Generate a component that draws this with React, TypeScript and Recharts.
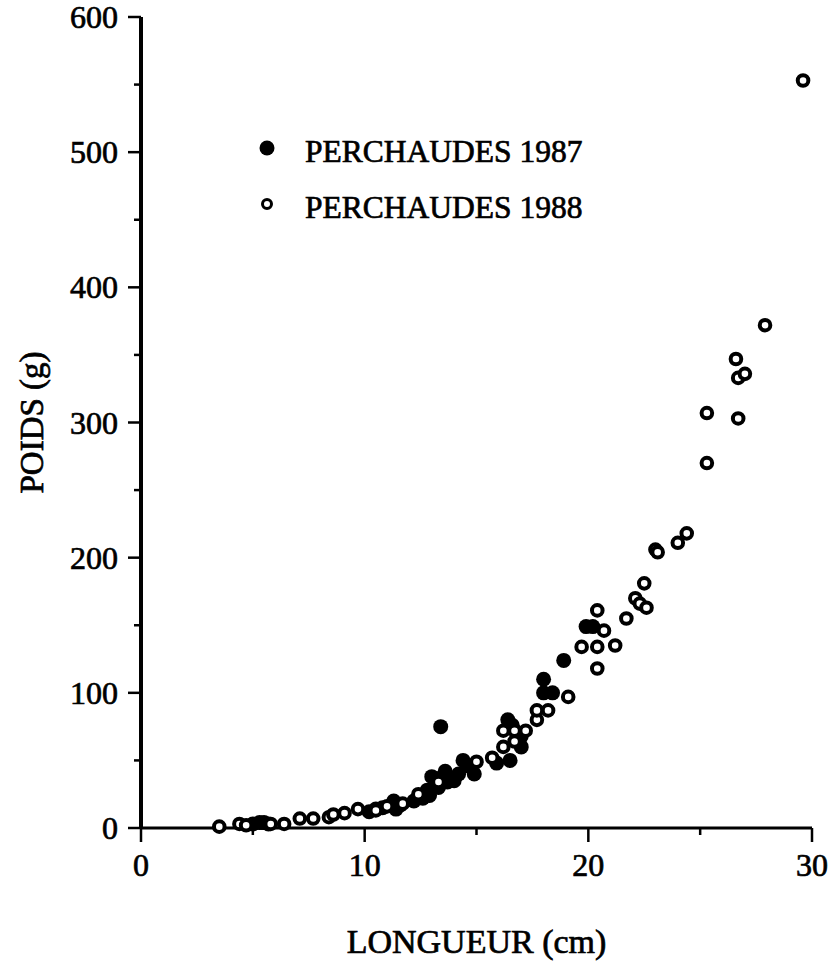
import React from 'react';
import { ScatterChart, Scatter, XAxis, YAxis, Legend } from 'recharts';

const FONT = '"Liberation Serif", "Times New Roman", serif';

const xTicks = [0, 5, 10, 15, 20, 25, 30];
const yTicks = [0, 50, 100, 150, 200, 250, 300, 350, 400, 450, 500, 550, 600];

const series1987Label = 'PERCHAUDES 1987';
const series1988Label = 'PERCHAUDES 1988';

// PERCHAUDES 1987 (filled)
const len1987 = [5.0, 5.3, 5.5, 5.7, 10.2, 10.5, 10.8, 11.3, 11.4, 11.6, 12.2, 12.6, 12.8, 13.0, 13.2, 13.3, 13.5, 13.4, 13.7, 14.0, 14.2, 14.4, 14.6, 14.9, 15.9, 16.5, 16.4, 16.6, 17.0, 17.0, 18.0, 18.0, 18.4, 18.9, 19.9, 20.2, 12.9, 13.6];
const wt1987 = [3, 4, 4, 3, 12, 14, 15, 20, 14, 17, 20, 22, 28, 38, 32, 30, 38, 75, 34, 35, 40, 50, 46, 40, 48, 50, 80, 76, 60, 68, 110, 100, 100, 124, 149, 149, 24, 42];

// PERCHAUDES 1988 (open)
const len1988 = [3.5, 4.4, 4.7, 5.8, 6.4, 7.1, 7.7, 8.4, 8.6, 9.1, 9.7, 10.5, 11.0, 11.7, 12.4, 13.3, 15.0, 15.7, 16.2, 16.7, 17.2, 16.7, 16.2, 17.7, 17.7, 18.2, 19.1, 19.7, 20.4, 21.2, 20.4, 20.4, 20.7, 21.7, 22.1, 22.3, 22.6, 22.5, 23.0, 23.1, 24.0, 24.4, 25.3, 25.3, 26.7, 26.6, 26.7, 27.0, 27.9, 29.6];
const wt1988 = [1, 3, 2, 3, 3, 7, 7, 8, 10, 11, 14, 13, 16, 18, 25, 34, 49, 52, 72, 72, 72, 64, 60, 80, 87, 87, 97, 134, 134, 135, 118, 161, 146, 155, 170, 166, 163, 181, 206, 204, 211, 218, 270, 307, 303, 347, 333, 336, 372, 553];

const data1987 = len1987.map((x, i) => ({ x, y: wt1987[i] }));
const data1988 = len1988.map((x, i) => ({ x, y: wt1988[i] }));

const TXT = { fontFamily: FONT, fill: '#000', stroke: '#000', strokeWidth: 0.7 };

const FilledDot = (props: any) => (
  <circle cx={props.cx} cy={props.cy} r={7.5} fill="#000" />
);
const OpenDot = (props: any) => (
  <circle cx={props.cx} cy={props.cy} r={5.3} fill="#fff" stroke="#000" strokeWidth={4} />
);

const YTick = (props: any) => {
  const { x, y, payload } = props;
  const major = payload.value % 100 === 0;
  return (
    <g>
      <line x1={x} x2={x - (major ? 13 : 7)} y1={y} y2={y} stroke="#000" strokeWidth={2.5} />
      {major && (
        <text x={x - 23} y={y + 11} textAnchor="end" fontSize={32} style={TXT}>
          {payload.value}
        </text>
      )}
    </g>
  );
};

const XTick = (props: any) => {
  const { x, y, payload } = props;
  const major = payload.value % 10 === 0;
  return (
    <g>
      <line x1={x} x2={x} y1={y} y2={y + (major ? 14 : 7)} stroke="#000" strokeWidth={2.5} />
      {major && (
        <text x={x} y={y + 48} textAnchor="middle" fontSize={32} style={TXT}>
          {payload.value}
        </text>
      )}
    </g>
  );
};

const LegendContent = () => (
  <svg width={400} height={110}>
    <circle cx={27} cy={23} r={7.5} fill="#000" />
    <text x={65} y={37} fontSize={31.5} style={TXT}>{series1987Label}</text>
    <circle cx={27} cy={79} r={4.5} fill="#fff" stroke="#000" strokeWidth={3} />
    <text x={65} y={93} fontSize={31.5} style={TXT}>{series1988Label}</text>
  </svg>
);

export default function App() {
  return (
    <div style={{ position: 'absolute', left: 0, top: 0, width: 830, height: 963, background: '#fff' }}>
      <ScatterChart width={830} height={963} margin={{ top: 17, right: 18, left: 0, bottom: 0 }}>
        <XAxis
          type="number"
          dataKey="x"
          domain={[0, 30]}
          ticks={xTicks}
          interval={0}
          tickSize={0}
          tickMargin={0}
          height={135}
          tick={<XTick />}
          axisLine={{ stroke: '#000', strokeWidth: 3 }}
          label={{ value: 'LONGUEUR (cm)', position: 'insideBottom', offset: 10, style: { ...TXT, fontSize: 34 } }}
        />
        <YAxis
          type="number"
          dataKey="y"
          domain={[0, 600]}
          ticks={yTicks}
          interval={0}
          tickSize={0}
          tickMargin={0}
          width={141}
          tick={<YTick />}
          axisLine={{ stroke: '#000', strokeWidth: 4 }}
          label={{ value: 'POIDS (g)', angle: -90, position: 'insideLeft', offset: 31, style: { ...TXT, textAnchor: 'middle', fontSize: 33 } }}
        />
        <Legend
          layout="horizontal"
          verticalAlign="middle"
          align="center"
          wrapperStyle={{ left: 240, top: 125, width: 400, height: 110 }}
          content={<LegendContent />}
        />
        <Scatter name={series1987Label} data={data1987} shape={<FilledDot />} isAnimationActive={false} />
        <Scatter name={series1988Label} data={data1988} shape={<OpenDot />} isAnimationActive={false} />
      </ScatterChart>
    </div>
  );
}
